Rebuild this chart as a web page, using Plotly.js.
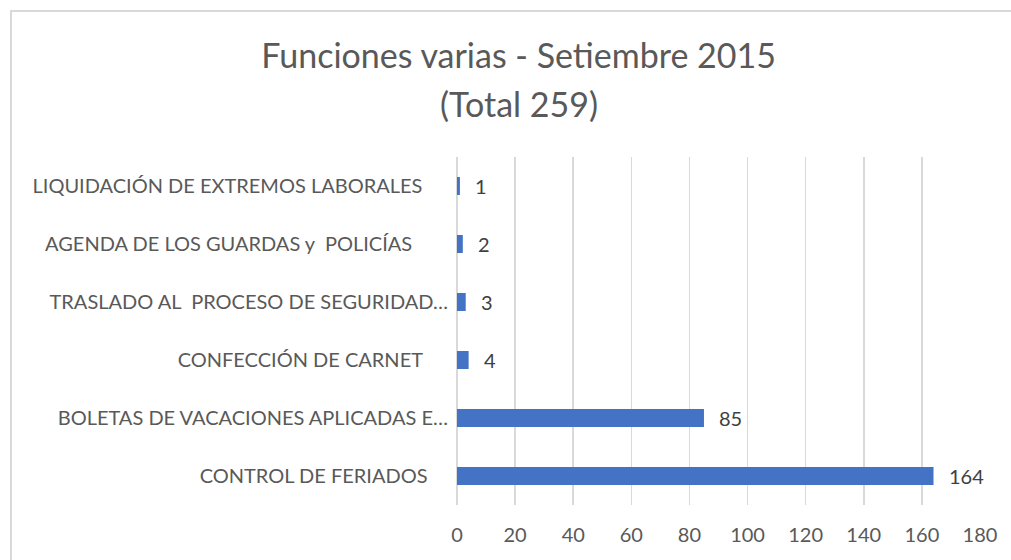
<!DOCTYPE html>
<html>
<head>
<meta charset="utf-8">
<script src="https://cdn.plot.ly/plotly-3.0.1.min.js"></script>
<style>
  html, body { margin: 0; padding: 0; background: #fff; overflow: hidden; }
  #frame { position: absolute; left: 10px; top: 10px; width: 1011px; height: 560px;
           border-left: 2px solid #d9d9d9; border-top: 2px solid #d9d9d9; box-sizing: border-box; }
  #chart { position: absolute; left: 0; top: 0; width: 1011px; height: 560px; }
</style>
</head>
<body>
<div id="frame"></div>
<div id="chart"></div>
<script>
// Data (bottom to top as drawn)
const categories = [
  "CONTROL DE FERIADOS\u00a0\u00a0\u00a0\u00a0",
  "BOLETAS DE VACACIONES APLICADAS E\u2026",
  "CONFECCI\u00d3N DE CARNET\u00a0\u00a0\u00a0\u00a0\u00a0",
  "TRASLADO AL\u00a0 PROCESO DE SEGURIDAD\u2026",
  "AGENDA DE LOS GUARDAS y\u00a0 POLIC\u00cdAS\u00a0\u00a0\u00a0\u00a0\u00a0\u00a0\u00a0",
  "LIQUIDACI\u00d3N DE EXTREMOS LABORALES\u00a0\u00a0\u00a0\u00a0\u00a0"
];
const values = [164, 85, 4, 3, 2, 1];
const xTicks = [0, 20, 40, 60, 80, 100, 120, 140, 160, 180];
const titleLine1 = "Funciones varias - Setiembre 2015";
const titleLine2 = "(Total 259)";

const FONT = "Lato, 'Open Sans', sans-serif";
const TXT = "#595959";

const trace = {
  type: "bar",
  orientation: "h",
  y: categories,
  x: values,
  width: 0.31,
  marker: { color: "#4472C4", line: { width: 0 } },
  hoverinfo: "none"
};

const annotations = values.map((v, i) => ({
  x: v, y: categories[i], xref: "x", yref: "y",
  text: String(v), showarrow: false, xanchor: "left", yanchor: "middle",
  xshift: 13, font: { family: FONT, size: 20, color: "#404040" }
}));
// second title line (paper coords: plot area spans x 457..980, y 157..505)
annotations.push({
  text: titleLine2, xref: "paper", yref: "paper",
  x: (518.5 - 457) / 523, y: (505 - 104) / 348, xanchor: "center", yanchor: "middle",
  showarrow: false, font: { family: FONT, size: 34, color: TXT }
});

const layout = {
  width: 1011, height: 560,
  paper_bgcolor: "rgba(0,0,0,0)", plot_bgcolor: "rgba(0,0,0,0)",
  margin: { l: 457, r: 31, t: 157, b: 55 },
  showlegend: false,
  title: {
    text: titleLine1, xref: "container", yref: "container",
    x: 0.513, y: 1 - 56 / 560, xanchor: "center", yanchor: "middle",
    font: { family: FONT, size: 34, color: TXT }
  },
  xaxis: {
    range: [0, 180], tickvals: xTicks, ticktext: xTicks.map(String),
    showgrid: true, gridcolor: "#d9d9d9", gridwidth: 1.5,
    zeroline: true, zerolinecolor: "#d9d9d9", zerolinewidth: 1.5,
    showline: false, ticks: "outside", ticklen: 12, tickcolor: "rgba(0,0,0,0)",
    tickfont: { family: FONT, size: 20, color: TXT }, fixedrange: true
  },
  yaxis: {
    type: "category", range: [-0.5, 5.5],
    showgrid: false, zeroline: false, showline: false,
    ticks: "outside", ticklen: 4, tickcolor: "rgba(0,0,0,0)",
    tickfont: { family: FONT, size: 20, color: TXT }, fixedrange: true
  },
  annotations: annotations,
  bargap: 0.69
};

Plotly.newPlot("chart", [trace], layout, { displayModeBar: false, staticPlot: true });
</script>
</body>
</html>
